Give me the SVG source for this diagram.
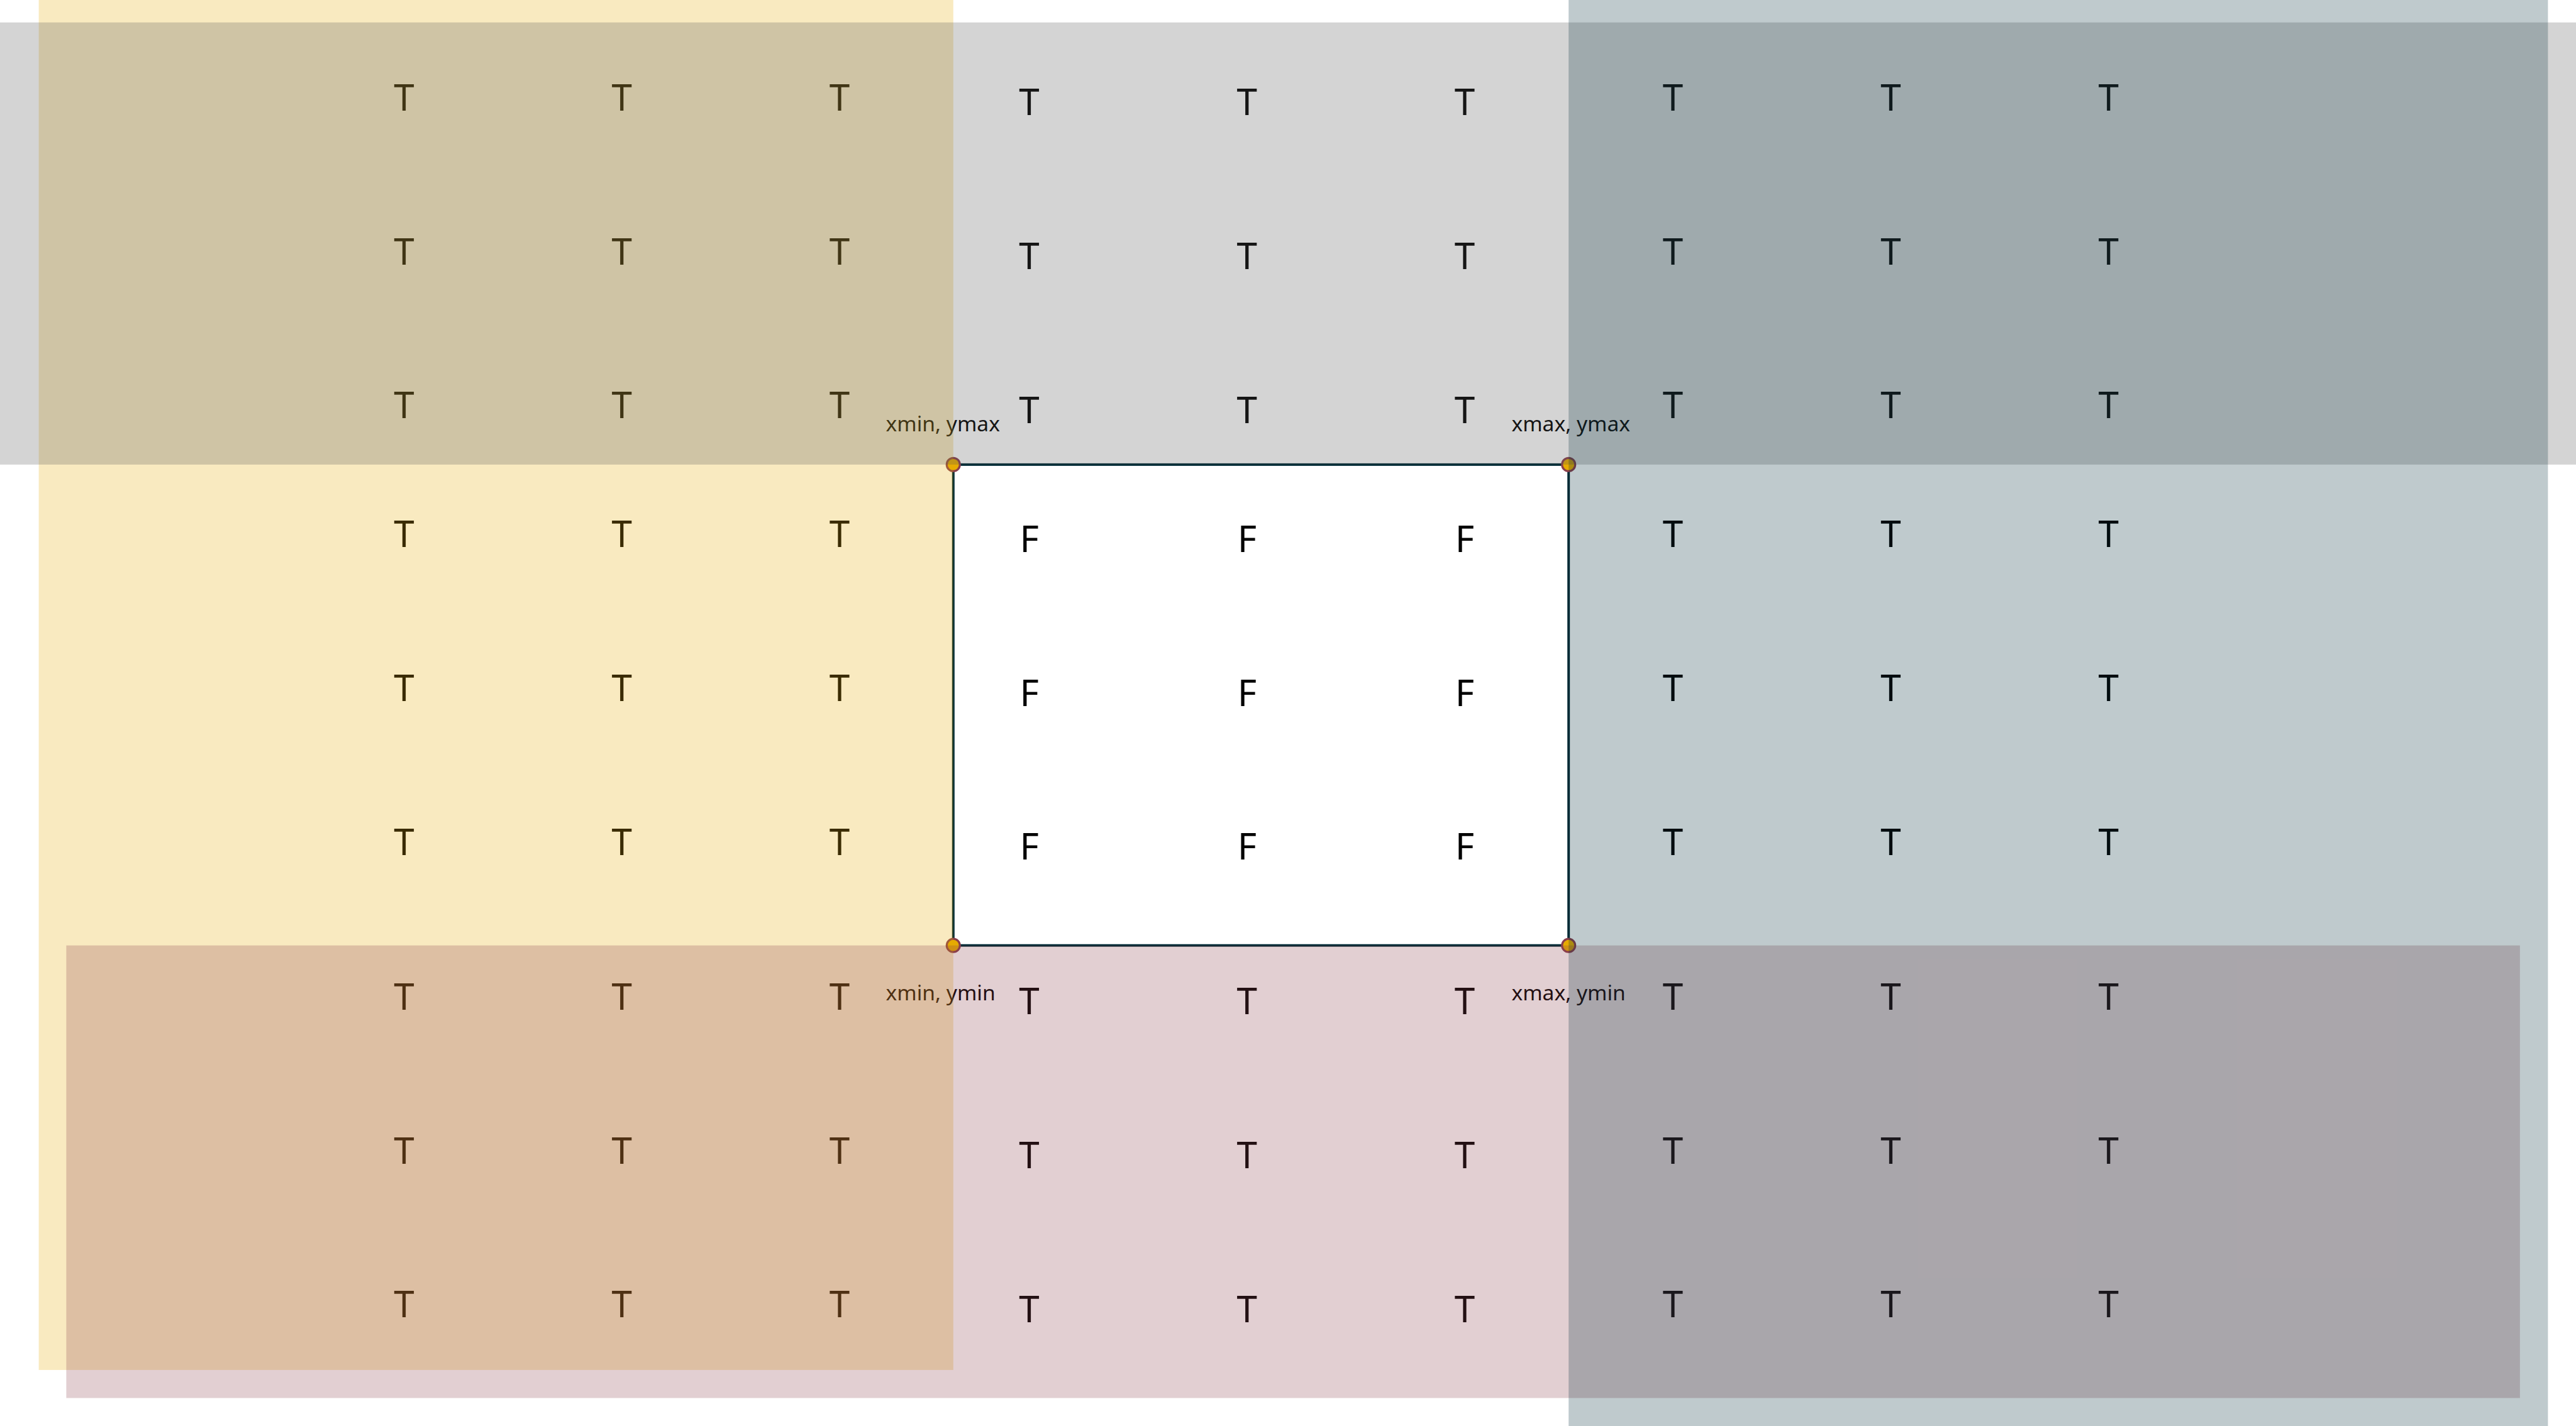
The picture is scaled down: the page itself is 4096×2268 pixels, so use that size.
<svg xmlns="http://www.w3.org/2000/svg" width="4096" height="2268" viewBox="0 0 4096 2268">
<style>
.g{font-family:"Noto Sans","Open Sans","DejaVu Sans",sans-serif;font-size:58.4px;fill:#000;text-anchor:middle}
.lbl{font-family:"Noto Sans","Open Sans","DejaVu Sans",sans-serif;font-size:33.6px;fill:#000}
.reg{fill-opacity:0.25;stroke:none}
.pt{fill:#e6ab02;stroke:#8b3f4b;stroke-width:3.2}
</style>
<rect x="0" y="0" width="4096" height="2268" fill="#ffffff"/>
<g id="bbox">
<rect x="1515.8" y="738.9" width="978.4" height="764.8" fill="none" stroke="#002b36" stroke-width="4"/>
</g>
<g id="cells">
<g id="row1">
<text class="g" x="642.4" y="175.7">T</text><text class="g" x="988.7" y="175.7">T</text><text class="g" x="1335" y="175.7">T</text>
<text class="g" x="1636.6" y="183">T</text><text class="g" x="1982.8" y="183">T</text><text class="g" x="2328.9" y="183">T</text>
<text class="g" x="2660.1" y="175.7">T</text><text class="g" x="3006.4" y="175.7">T</text><text class="g" x="3352.7" y="175.7">T</text>
</g>
<g id="row2">
<text class="g" x="642.4" y="420.5">T</text><text class="g" x="988.7" y="420.5">T</text><text class="g" x="1335" y="420.5">T</text>
<text class="g" x="1636.6" y="427.8">T</text><text class="g" x="1982.8" y="427.8">T</text><text class="g" x="2328.9" y="427.8">T</text>
<text class="g" x="2660.1" y="420.5">T</text><text class="g" x="3006.4" y="420.5">T</text><text class="g" x="3352.7" y="420.5">T</text>
</g>
<g id="row3">
<text class="g" x="642.4" y="665.4">T</text><text class="g" x="988.7" y="665.4">T</text><text class="g" x="1335" y="665.4">T</text>
<text class="g" x="1636.6" y="672.7">T</text><text class="g" x="1982.8" y="672.7">T</text><text class="g" x="2328.9" y="672.7">T</text>
<text class="g" x="2660.1" y="665.4">T</text><text class="g" x="3006.4" y="665.4">T</text><text class="g" x="3352.7" y="665.4">T</text>
</g>
<g id="row4">
<text class="g" x="642.4" y="870.4">T</text><text class="g" x="988.7" y="870.4">T</text><text class="g" x="1335" y="870.4">T</text>
<text class="g" x="1636.6" y="877.7">F</text><text class="g" x="1982.8" y="877.7">F</text><text class="g" x="2328.9" y="877.7">F</text>
<text class="g" x="2660.1" y="870.4">T</text><text class="g" x="3006.4" y="870.4">T</text><text class="g" x="3352.7" y="870.4">T</text>
</g>
<g id="row5">
<text class="g" x="642.4" y="1115.2">T</text><text class="g" x="988.7" y="1115.2">T</text><text class="g" x="1335" y="1115.2">T</text>
<text class="g" x="1636.6" y="1122.5">F</text><text class="g" x="1982.8" y="1122.5">F</text><text class="g" x="2328.9" y="1122.5">F</text>
<text class="g" x="2660.1" y="1115.2">T</text><text class="g" x="3006.4" y="1115.2">T</text><text class="g" x="3352.7" y="1115.2">T</text>
</g>
<g id="row6">
<text class="g" x="642.4" y="1360">T</text><text class="g" x="988.7" y="1360">T</text><text class="g" x="1335" y="1360">T</text>
<text class="g" x="1636.6" y="1367.3">F</text><text class="g" x="1982.8" y="1367.3">F</text><text class="g" x="2328.9" y="1367.3">F</text>
<text class="g" x="2660.1" y="1360">T</text><text class="g" x="3006.4" y="1360">T</text><text class="g" x="3352.7" y="1360">T</text>
</g>
<g id="row7">
<text class="g" x="642.4" y="1605.7">T</text><text class="g" x="988.7" y="1605.7">T</text><text class="g" x="1335" y="1605.7">T</text>
<text class="g" x="1636.6" y="1613">T</text><text class="g" x="1982.8" y="1613">T</text><text class="g" x="2328.9" y="1613">T</text>
<text class="g" x="2660.1" y="1605.7">T</text><text class="g" x="3006.4" y="1605.7">T</text><text class="g" x="3352.7" y="1605.7">T</text>
</g>
<g id="row8">
<text class="g" x="642.4" y="1850.5">T</text><text class="g" x="988.7" y="1850.5">T</text><text class="g" x="1335" y="1850.5">T</text>
<text class="g" x="1636.6" y="1857.8">T</text><text class="g" x="1982.8" y="1857.8">T</text><text class="g" x="2328.9" y="1857.8">T</text>
<text class="g" x="2660.1" y="1850.5">T</text><text class="g" x="3006.4" y="1850.5">T</text><text class="g" x="3352.7" y="1850.5">T</text>
</g>
<g id="row9">
<text class="g" x="642.4" y="2095.3">T</text><text class="g" x="988.7" y="2095.3">T</text><text class="g" x="1335" y="2095.3">T</text>
<text class="g" x="1636.6" y="2102.6">T</text><text class="g" x="1982.8" y="2102.6">T</text><text class="g" x="2328.9" y="2102.6">T</text>
<text class="g" x="2660.1" y="2095.3">T</text><text class="g" x="3006.4" y="2095.3">T</text><text class="g" x="3352.7" y="2095.3">T</text>
</g>
</g>
<g id="corner-labels">
<text class="lbl" x="1408.5" y="685.5">xmin, ymax</text>
<text class="lbl" x="2403.4" y="685.5">xmax, ymax</text>
<text class="lbl" x="1408.5" y="1591.2">xmin, ymin</text>
<text class="lbl" x="2403.4" y="1591.2">xmax, ymin</text>
</g>
<g id="corner-points">
<circle class="pt" cx="1515.8" cy="738.9" r="10.5"/>
<circle class="pt" cx="2494.2" cy="738.9" r="10.5"/>
<circle class="pt" cx="1515.8" cy="1503.7" r="10.5"/>
<circle class="pt" cx="2494.2" cy="1503.7" r="10.5"/>
</g>
<g id="regions">
<rect id="region-left" class="reg" x="61.6" y="0" width="1454.2" height="2178.9" fill="#e6ab02"/>
<rect id="region-top" class="reg" x="0" y="35.7" width="4096" height="703.2" fill="#535353"/>
<rect id="region-bottom" class="reg" x="105.4" y="1503.7" width="3901.5" height="719.8" fill="#8b3f4b"/>
<rect id="region-right" class="reg" x="2494.2" y="0" width="1557.2" height="2268" fill="#002b36"/>
</g>
<g id="connectors"/>
</svg>
